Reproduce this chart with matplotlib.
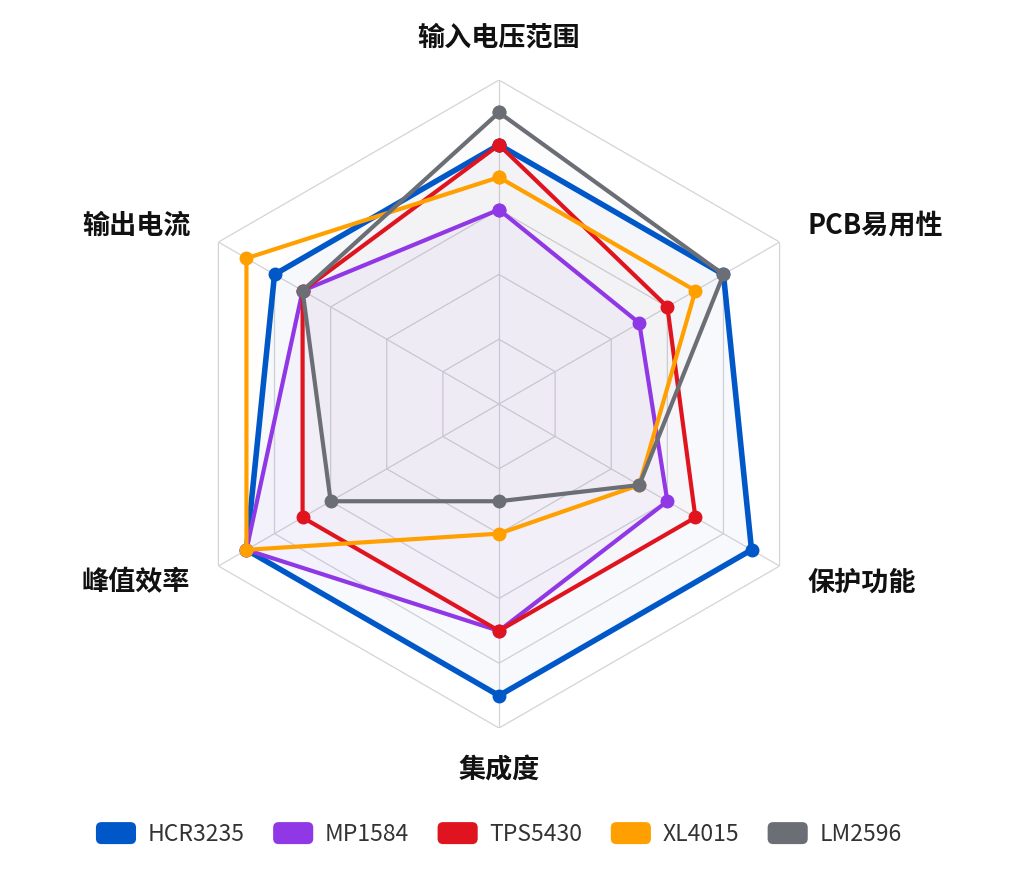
import numpy as np
import matplotlib
matplotlib.use("Agg")
import matplotlib.pyplot as plt
from matplotlib.patches import Patch, FancyBboxPatch
from matplotlib.legend_handler import HandlerPatch

plt.rcParams['font.family'] = ['Noto Sans CJK SC', 'DejaVu Sans']

# data (clockwise from the top)
categories = ["输入电压范围", "PCB易用性", "保护功能", "集成度", "峰值效率", "输出电流"]
series_names = ["HCR3235", "MP1584", "TPS5430", "XL4015", "LM2596"]
hcr3235 = [80, 80, 90, 90, 90, 80]
mp1584 = [60, 50, 60, 70, 90, 70]
tps5430 = [80, 60, 70, 70, 70, 70]
xl4015 = [70, 70, 50, 40, 90, 90]
lm2596 = [90, 80, 50, 30, 60, 70]
rings = [20, 40, 60, 80, 100]

colors = ["#0057c8", "#9038e6", "#e0141e", "#ffa000", "#6b6e75"]
widths = [4.0, 3.0, 3.0, 3.0, 3.0]
fill_alpha = [0.03, 0.03, 0.012, 0.008, 0.015]

n = len(categories)
angles = np.linspace(0, 2 * np.pi, n, endpoint=False)
closed = np.append(angles, angles[0])

fig = plt.figure(figsize=(10.24, 8.74), dpi=100)
ax = fig.add_axes([0.1709, 0.167, 0.6328, 0.7414], projection="polar")
ax.set_theta_zero_location("N")
ax.set_theta_direction(-1)
ax.set_ylim(0, 100)
ax.grid(False)
ax.spines["polar"].set_visible(False)
ax.set_xticks([])
ax.set_yticks([])
ax.patch.set_alpha(0)

# hexagon grid
for r in rings:
    ax.plot(closed, [r] * (n + 1), color="#d4d4d8", lw=0.9, zorder=1)
for a in angles:
    ax.plot([a, a], [0, 100], color="#d4d4d8", lw=0.9, zorder=1)

all_values = [hcr3235, mp1584, tps5430, xl4015, lm2596]
for i, (name, vals) in enumerate(zip(series_names, all_values)):
    v = np.append(vals, vals[0])
    ax.fill(closed, v, color=colors[i], alpha=fill_alpha[i], zorder=2, lw=0)
    ax.plot(closed, v, color=colors[i], lw=widths[i], zorder=3 + i,
            marker="o", markersize=9, solid_joinstyle="miter")

# axis labels
for a, lab in zip(angles, categories):
    deg = np.degrees(a)
    if deg < 1 or abs(deg - 180) < 1:
        ha, r = "center", 113
    elif deg < 180:
        ha, r = "left", 110
    else:
        ha, r = "right", 110
    ax.text(a, r, lab, ha=ha, va="center", fontsize=19.5, fontweight="bold",
            color="#111111")


class RoundHandler(HandlerPatch):
    def create_artists(self, legend, orig_handle, xdescent, ydescent,
                       width, height, fontsize, trans):
        p = FancyBboxPatch((-xdescent, -ydescent), width, height,
                           boxstyle="round,pad=0,rounding_size=4",
                           facecolor=orig_handle.get_facecolor(),
                           edgecolor="none", transform=trans)
        return [p]


handles = [Patch(facecolor=c) for c in colors]
fig.legend(handles, series_names, loc="center", bbox_to_anchor=(0.487, 1 - 834 / 874),
           ncol=5, frameon=False, fontsize=16.5, handlelength=1.75, handleheight=1.1,
           handletextpad=0.5, columnspacing=1.25, labelcolor="#333333",
           handler_map={Patch: RoundHandler()})

fig.savefig("out.png", dpi=100, facecolor="white")
